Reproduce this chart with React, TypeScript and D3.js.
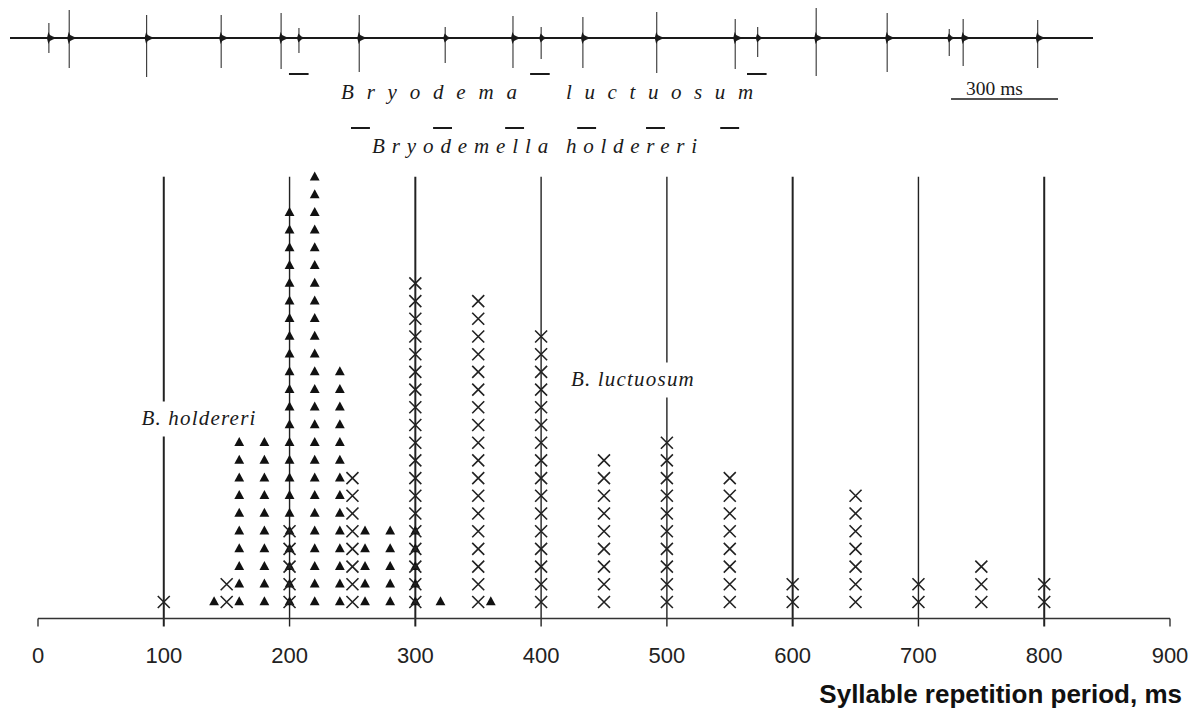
import React from "react";
import * as d3 from "d3";

// ---- Histogram data (dot stacks: number of measurements per period) ----
const holdereriPeriods = [140, 160, 180, 200, 220, 240, 260, 280, 300, 320, 360];
const holdereriCounts = [1, 10, 10, 23, 25, 14, 5, 5, 5, 1, 1];
const luctuosumPeriods = [100, 150, 200, 250, 300, 350, 400, 450, 500, 550, 600, 650, 700, 750, 800];
const luctuosumCounts = [1, 2, 5, 8, 19, 18, 16, 9, 10, 8, 2, 7, 2, 3, 2];

const xTicks = [0, 100, 200, 300, 400, 500, 600, 700, 800, 900];
const refLines = [100, 200, 300, 400, 500, 600, 700, 800];

// ---- Oscillogram (time in ms, amplitudes in relative units) ----
const spikeTimes = [109, 166, 383, 592, 760, 810, 979, 1220, 1410, 1489, 1606, 1813, 2033, 2096, 2260, 2459, 2633, 2672, 2881];
const spikeUp = [15, 28, 23, 23, 25, 10, 23, 11, 22, 11, 21, 26, 19, 11, 30, 25, 9, 19, 18];
const spikeDown = [15, 30, 39, 30, 31, 15, 34, 25, 30, 21, 30, 35, 31, 19, 38, 34, 18, 28, 30];
const luctuosumMarks = [782, 1458, 2066];
const holdereriMarks = [956, 1186, 1388, 1590, 1783, 1991];
const recordLength = 3036;
const scaleBarStart = 2638;
const scaleBarLength = 300;

const W = 1192;
const H = 709;
const serif = "'Liberation Serif', 'Times New Roman', serif";
const sans = "'Liberation Sans', Arial, sans-serif";
const ink = "#1a1a1a";

export default function App() {
  const x = d3.scaleLinear().domain([0, 900]).range([38, 1170]);
  const row = d3.scaleLinear().domain([0, 24]).range([601.5, 176.7]);
  const axisY = 618.5;
  const t = d3.scaleLinear().domain([0, recordLength]).range([10, 1093]);
  const amp = d3.scaleLinear().domain([-40, 40]).range([78, -2]);
  const base = amp(0);

  const triPts = holdereriPeriods.flatMap((p, i) => d3.range(holdereriCounts[i]).map((r) => ({ p, r })));
  const crossPts = luctuosumPeriods.flatMap((p, i) => d3.range(luctuosumCounts[i]).map((r) => ({ p, r })));

  // species labels (interrupting a reference line)
  const labels = [
    { text: "B. holdereri", period: 128, row: 10.0, line: 100 },
    { text: "B. luctuosum", period: 473, row: 12.2, line: 500 },
  ];

  const tri = "M0,-5.2L4.9,3.8L-4.9,3.8Z";

  return (
    <svg width={W} height={H} style={{ position: "absolute", left: 0, top: 0, background: "#fff" }}>
      {/* oscillogram */}
      <line x1={t(0)} x2={t(recordLength)} y1={base} y2={base} stroke={ink} strokeWidth={2} />
      {spikeTimes.map((s, i) => {
        const cx = t(s);
        const big = spikeUp[i] > 14;
        const bw = big ? 4 : 2.5;
        const bh = big ? 6 : 4.5;
        return (
          <g key={"sp" + i}>
            <line x1={cx} x2={cx} y1={amp(spikeUp[i])} y2={amp(-spikeDown[i])} stroke="#333" strokeWidth={1.1} />
            <path
              d={`M${cx - 2},${base}L${cx - 0.5},${base - bh}L${cx + 1},${base - 3}L${cx + bw},${base - 1.5}L${cx + bw + 4},${base}L${cx + bw},${base + 1.5}L${cx + 1},${base + 3}L${cx - 0.5},${base + bh}Z`}
              fill={ink}
            />
          </g>
        );
      })}
      {luctuosumMarks.map((s, i) => (
        <line key={"lm" + i} x1={t(s)} x2={t(s + 55)} y1={74} y2={74} stroke={ink} strokeWidth={2} />
      ))}
      {holdereriMarks.map((s, i) => (
        <line key={"hm" + i} x1={t(s)} x2={t(s + 53)} y1={128} y2={128} stroke={ink} strokeWidth={2} />
      ))}
      <text x={341} y={99} fontFamily={serif} fontStyle="italic" fontSize={21} letterSpacing={12.8} fill={ink}>Bryodema</text>
      <text x={566} y={99} fontFamily={serif} fontStyle="italic" fontSize={21} letterSpacing={12.6} fill={ink}>luctuosum</text>
      <text x={372} y={153} fontFamily={serif} fontStyle="italic" fontSize={21} letterSpacing={6.9} fill={ink}>Bryodemella</text>
      <text x={566} y={153} fontFamily={serif} fontStyle="italic" fontSize={21} letterSpacing={6.7} fill={ink}>holdereri</text>
      <text x={966} y={95} fontFamily={serif} fontSize={19.5} fill={ink}>300 ms</text>
      <line x1={t(scaleBarStart)} x2={t(scaleBarStart + scaleBarLength)} y1={99} y2={99} stroke={ink} strokeWidth={1.6} />

      {/* reference lines */}
      {refLines.map((v, i) => {
        const lab = labels.find((l) => l.line === v);
        const sw = [100, 300, 600, 800].includes(v) ? 2 : 1.4;
        if (lab) {
          const by = row(lab.row);
          return (
            <g key={"rl" + i}>
              <line x1={x(v)} x2={x(v)} y1={row(24)} y2={by - 23} stroke="#222" strokeWidth={sw} />
              <line x1={x(v)} x2={x(v)} y1={by + 12} y2={axisY + 8} stroke="#222" strokeWidth={sw} />
            </g>
          );
        }
        return <line key={"rl" + i} x1={x(v)} x2={x(v)} y1={row(24)} y2={axisY + 8} stroke="#222" strokeWidth={sw} />;
      })}
      {labels.map((l, i) => (
        <text key={"lab" + i} x={x(l.period)} y={row(l.row)} textAnchor="middle" fontFamily={serif} fontStyle="italic" fontSize={21} letterSpacing={1.2} fill={ink}>
          {l.text}
        </text>
      ))}

      {/* markers */}
      {triPts.map((d, i) => (
        <path key={"t" + i} d={tri} transform={`translate(${x(d.p)},${row(d.r)})`} fill="#111" />
      ))}
      {crossPts.map((d, i) => (
        <path
          key={"c" + i}
          d="M-6,-6L6,6M-6,6L6,-6"
          transform={`translate(${x(d.p)},${row(d.r) + 0.5})`}
          stroke="#222"
          strokeWidth={1.6}
          fill="none"
        />
      ))}

      {/* x axis */}
      <line x1={x(0)} x2={x(900)} y1={axisY} y2={axisY} stroke="#333" strokeWidth={1.6} />
      <line x1={x(0)} x2={x(0)} y1={axisY} y2={axisY + 8} stroke="#333" strokeWidth={1.4} />
      <line x1={x(900)} x2={x(900)} y1={axisY} y2={axisY + 8} stroke="#333" strokeWidth={1.4} />
      {xTicks.map((v) => (
        <text key={"xt" + v} x={x(v)} y={663} textAnchor="middle" fontFamily={sans} fontSize={22} fill="#222">
          {v}
        </text>
      ))}
      <text x={1182} y={703} textAnchor="end" fontFamily={sans} fontWeight="bold" fontSize={26} fill="#111">
        Syllable repetition period, ms
      </text>
    </svg>
  );
}
